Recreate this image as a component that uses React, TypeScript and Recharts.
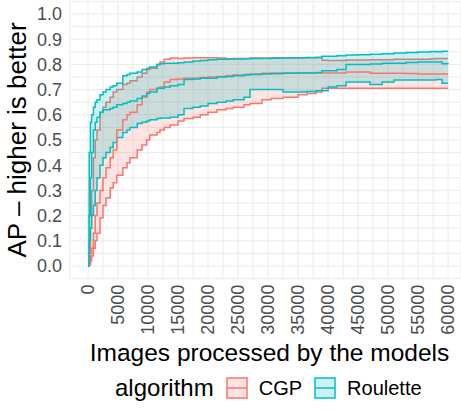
import { Area, CartesianGrid, ComposedChart, Line, XAxis, YAxis } from 'recharts';

// images processed (x)
const images = [
  0, 200, 400, 600, 900, 1200, 1500, 2000, 2500, 3000, 3700, 4200, 4800, 5800, 6500, 7000, 8200, 9000,
  9800, 10300, 11500, 12000, 12700, 13700, 15000, 16000, 17500, 18700, 20000, 21500, 23000, 24200, 26000,
  27000, 29000, 30500, 32500, 35000, 36500, 38000, 39000, 40000, 41500, 43000, 45000, 47000, 49000, 51000,
  53000, 55000, 57000, 58000, 59000, 60000,
];

const cgpHi = [
  0, 0.05, 0.15, 0.3, 0.43, 0.5, 0.54, 0.61, 0.63, 0.65, 0.67, 0.69, 0.7, 0.72, 0.725, 0.735, 0.75, 0.765,
  0.78, 0.785, 0.8, 0.81, 0.82, 0.825, 0.823, 0.825, 0.826, 0.826, 0.826, 0.825, 0.822, 0.823, 0.823,
  0.825, 0.825, 0.826, 0.826, 0.826, 0.826, 0.826, 0.816, 0.815, 0.815, 0.817, 0.817, 0.818, 0.818, 0.82,
  0.82, 0.82, 0.822, 0.823, 0.823, 0.823,
];
const cgpMid = [
  0, 0.01, 0.04, 0.07, 0.13, 0.2, 0.25, 0.3, 0.35, 0.39, 0.43, 0.46, 0.54, 0.58, 0.6, 0.61, 0.64, 0.67,
  0.69, 0.7, 0.705, 0.71, 0.73, 0.74, 0.742, 0.745, 0.745, 0.748, 0.75, 0.752, 0.755, 0.758, 0.76,
  0.762, 0.765, 0.766, 0.766, 0.766, 0.766, 0.766, 0.766, 0.766, 0.766, 0.77, 0.77, 0.765, 0.765, 0.765,
  0.764, 0.762, 0.762, 0.762, 0.762, 0.762,
];
const cgpLo = [
  0, 0.005, 0.02, 0.04, 0.07, 0.1, 0.13, 0.19, 0.24, 0.27, 0.31, 0.33, 0.36, 0.39, 0.41, 0.43, 0.46, 0.48,
  0.5, 0.52, 0.53, 0.54, 0.55, 0.56, 0.575, 0.585, 0.59, 0.6, 0.61, 0.62, 0.625, 0.63, 0.64,
  0.645, 0.66, 0.665, 0.67, 0.68, 0.685, 0.69, 0.705, 0.705, 0.705, 0.705, 0.705, 0.705, 0.705, 0.705,
  0.705, 0.705, 0.705, 0.705, 0.705, 0.705,
];

const rouHi = [
  0, 0.45, 0.57, 0.6, 0.63, 0.65, 0.66, 0.68, 0.69, 0.7, 0.71, 0.715, 0.725, 0.755, 0.76, 0.765, 0.77, 0.78,
  0.785, 0.79, 0.8, 0.803, 0.805, 0.805, 0.807, 0.81, 0.813, 0.815, 0.818, 0.82, 0.82, 0.821, 0.822,
  0.823, 0.823, 0.824, 0.825, 0.826, 0.827, 0.828, 0.832, 0.832, 0.834, 0.837, 0.838, 0.84, 0.842, 0.845,
  0.847, 0.849, 0.851, 0.85, 0.852, 0.852,
];
const rouMid = [
  0, 0.2, 0.35, 0.45, 0.54, 0.57, 0.59, 0.61, 0.62, 0.62, 0.625, 0.63, 0.64, 0.645, 0.65, 0.655, 0.665, 0.675,
  0.685, 0.69, 0.705, 0.705, 0.71, 0.715, 0.72, 0.74, 0.742, 0.745, 0.745, 0.75, 0.752, 0.755, 0.758,
  0.76, 0.762, 0.763, 0.765, 0.766, 0.766, 0.768, 0.775, 0.775, 0.78, 0.8, 0.8, 0.802, 0.805, 0.805,
  0.808, 0.81, 0.81, 0.81, 0.803, 0.802,
];
const rouLo = [
  0, 0.1, 0.15, 0.2, 0.24, 0.3, 0.35, 0.4, 0.43, 0.45, 0.47, 0.49, 0.51, 0.53, 0.54, 0.55, 0.565, 0.57,
  0.575, 0.58, 0.585, 0.587, 0.587, 0.59, 0.6, 0.625, 0.63, 0.635, 0.645, 0.65, 0.655, 0.66, 0.67,
  0.7, 0.7, 0.7, 0.69, 0.69, 0.692, 0.695, 0.695, 0.71, 0.715, 0.73, 0.73, 0.72, 0.73, 0.738,
  0.738, 0.738, 0.738, 0.74, 0.725, 0.725,
];

const xTicks = [
  0, 2500, 5000, 7500, 10000, 12500, 15000, 17500, 20000, 22500, 25000, 27500, 30000, 32500, 35000, 37500,
  40000, 42500, 45000, 47500, 50000, 52500, 55000, 57500, 60000,
];
const yTicks = [
  0, 0.05, 0.1, 0.15, 0.2, 0.25, 0.3, 0.35, 0.4, 0.45, 0.5, 0.55, 0.6, 0.65, 0.7, 0.75, 0.8, 0.85, 0.9,
  0.95, 1,
];

const algorithms = [
  { name: 'CGP', color: '#F8766D' },
  { name: 'Roulette', color: '#00BFC4' },
];

const data = images.map((x, i) => ({
  x,
  cgp: [cgpLo[i], cgpHi[i]],
  cgpMid: cgpMid[i],
  rou: [rouLo[i], rouHi[i]],
  rouMid: rouMid[i],
}));

const font = '"Liberation Sans", Arial, sans-serif';

function XTick({ x, y, payload }: any) {
  const v = payload.value;
  if (v % 5000 !== 0) return null;
  return (
    <text x={x} y={y} transform={`rotate(-90 ${x} ${y})`} textAnchor="end" dy="0.35em" fill="#4d4d4d" fontSize={18} fontFamily={font}>
      {v}
    </text>
  );
}

function Legend() {
  return (
    <div style={{ position: 'absolute', left: 115, top: 375, height: 26, display: 'flex', alignItems: 'center', fontFamily: font, color: '#000' }}>
      <span style={{ fontSize: 24, marginRight: 12 }}>algorithm</span>
      {algorithms.map((a) => (
        <div key={a.name} style={{ display: 'flex', alignItems: 'center', marginRight: 12 }}>
          <svg width={22} height={22} style={{ marginRight: 11 }}>
            <rect x={1} y={1} width={20} height={20} fill={a.color} fillOpacity={0.2} stroke={a.color} strokeWidth={1.5} />
            <line x1={1} x2={21} y1={11} y2={11} stroke={a.color} strokeWidth={1.5} />
          </svg>
          <span style={{ fontSize: 20 }}>{a.name}</span>
        </div>
      ))}
    </div>
  );
}

export default function App() {
  return (
    <div style={{ position: 'absolute', left: 0, top: 0, width: 461, height: 410, background: '#fff' }}>
      <ComposedChart width={461} height={410} data={data} margin={{ top: 1.4, right: 0, bottom: 41.4, left: 8 }}>
        <CartesianGrid stroke="#ebebeb" strokeWidth={1} />
        <XAxis
          dataKey="x"
          type="number"
          domain={[-3000, 62150]}
          ticks={xTicks}
          interval={0}
          allowDataOverflow
          axisLine={false}
          tickLine={false}
          tickSize={4}
          tickMargin={2}
          height={90}
          tick={<XTick />}
          label={{ value: 'Images processed by the models', position: 'insideBottom', offset: 8, dx: 4, fontSize: 24.5, fill: '#000', fontFamily: font }}
        />
        <YAxis
          type="number"
          domain={[-0.05, 1.05]}
          ticks={yTicks}
          interval={0}
          allowDataOverflow
          axisLine={false}
          tickLine={false}
          width={62}
          tick={{ fill: '#4d4d4d', fontSize: 18, fontFamily: font }}
          tickFormatter={(v: number) => (Math.round(v * 100) % 10 === 0 ? v.toFixed(1) : '')}
          label={{ value: 'AP – higher is better', angle: -90, position: 'insideLeft', offset: 15, dx: -6, fontSize: 26, fill: '#000', fontFamily: font, style: { textAnchor: 'middle' } }}
        />
        <Area dataKey="cgp" type="stepAfter" stroke={algorithms[0].color} strokeWidth={1.5} fill={algorithms[0].color} fillOpacity={0.2} dot={false} activeDot={false} isAnimationActive={false} />
        <Area dataKey="rou" type="stepAfter" stroke={algorithms[1].color} strokeWidth={1.5} fill={algorithms[1].color} fillOpacity={0.2} dot={false} activeDot={false} isAnimationActive={false} />
        <Line dataKey="cgpMid" type="stepAfter" stroke={algorithms[0].color} strokeWidth={1.5} dot={false} activeDot={false} isAnimationActive={false} />
        <Line dataKey="rouMid" type="stepAfter" stroke={algorithms[1].color} strokeWidth={1.5} dot={false} activeDot={false} isAnimationActive={false} />
      </ComposedChart>
      <Legend />
    </div>
  );
}
